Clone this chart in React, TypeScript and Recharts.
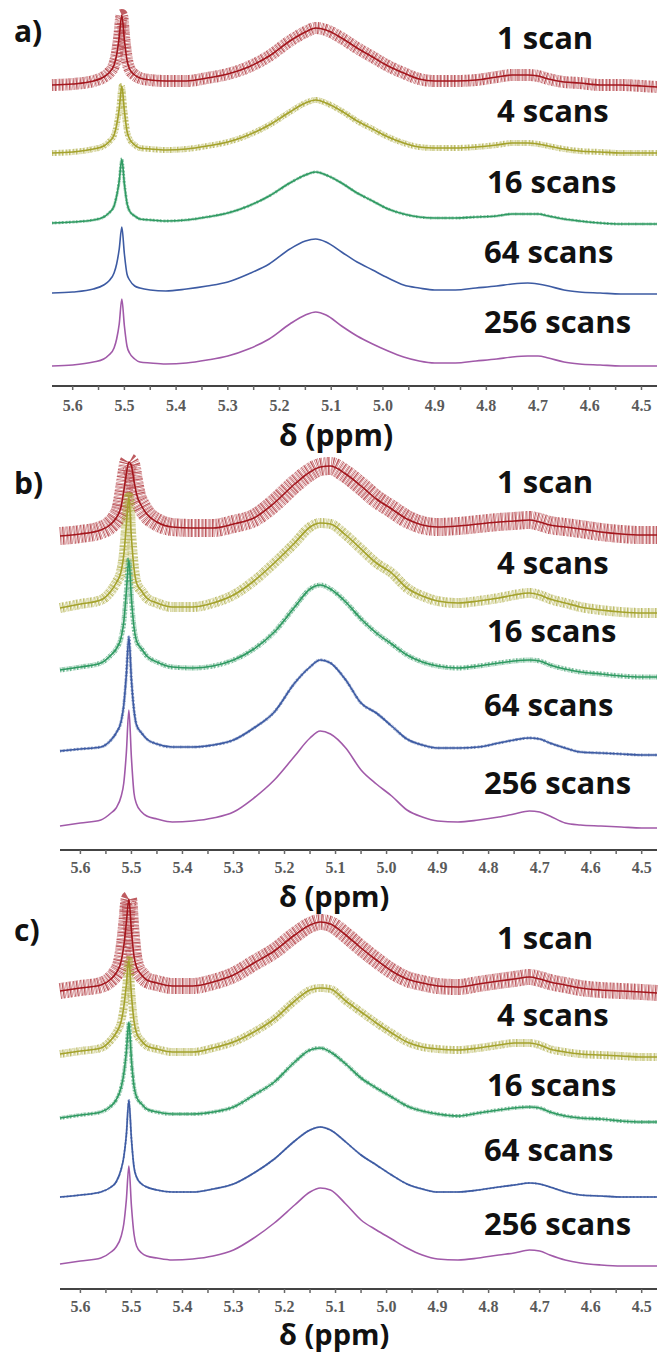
import React from 'react';
import { LineChart, Line, XAxis, YAxis } from 'recharts';

// chemical shift grid (ppm), shared by every trace; denser around the 5.5 ppm peak
const ppm = [
  5.64, 5.6, 5.56, 5.54, 5.53, 5.52, 5.515, 5.51, 5.505, 5.5, 5.495, 5.49, 5.48, 5.47, 5.45,
  5.42, 5.38, 5.34, 5.3, 5.26, 5.22, 5.18, 5.15, 5.13, 5.11, 5.08, 5.05, 5.02, 4.99, 4.96,
  4.93, 4.9, 4.86, 4.82, 4.78, 4.75, 4.72, 4.7, 4.68, 4.65, 4.62, 4.58, 4.54, 4.5, 4.47,
];

const scanLabels = ['1 scan', '4 scans', '16 scans', '64 scans', '256 scans'];
const scanColors = ['#a3161d', '#a4a22c', '#2f9a62', '#3d5ba3', '#a15aa9'];

const majorTicks = [5.6, 5.5, 5.4, 5.3, 5.2, 5.1, 5.0, 4.9, 4.8, 4.7, 4.6, 4.5];
const minorTicks = [5.55, 5.45, 5.35, 5.25, 5.15, 5.05, 4.95, 4.85, 4.75, 4.65, 4.55];

// intensities above each trace's own baseline (arbitrary units)
const a1 = [
  0, 1, 4, 8, 12, 20, 30, 48, 70, 45, 25, 16, 10, 7, 5,
  4, 4, 7, 11, 18, 29, 44, 53, 57, 55, 47, 37, 28, 19, 12,
  6, 4, 4, 5, 8, 10, 10, 9, 6, 3, 2, 0, 0, -1, -2,
];
const a4 = [
  0, 1, 4, 7, 11, 18, 28, 44, 67, 42, 22, 14, 8, 5, 4,
  3, 4, 7, 11, 18, 28, 41, 50, 53, 50, 42, 32, 24, 16, 10,
  6, 5, 5, 6, 8, 10, 10, 9, 7, 4, 2, 1, 0, 0, 0,
];
const a16 = [
  1, 2, 4, 7, 11, 18, 28, 43, 65, 40, 21, 13, 8, 5, 4,
  3, 4, 7, 11, 18, 28, 41, 49, 52, 49, 41, 31, 23, 15, 10,
  7, 6, 6, 7, 8, 10, 10, 10, 8, 5, 3, 1, 0, 0, 0,
];
const a64 = [
  1, 2, 5, 9, 13, 21, 30, 45, 67, 40, 20, 14, 8, 6, 4,
  3, 5, 8, 12, 20, 30, 45, 53, 55, 52, 42, 32, 24, 16, 9,
  6, 4, 4, 6, 8, 10, 11, 10, 8, 4, 2, 1, 0, 0, 0,
];
const a256 = [
  0, 1, 4, 7, 11, 18, 27, 42, 67, 40, 20, 13, 7, 4, 3,
  2, 3, 6, 10, 17, 27, 42, 51, 54, 51, 40, 30, 22, 15, 9,
  5, 3, 3, 5, 7, 9, 10, 10, 8, 4, 2, 1, 0, 0, 0,
];

const b1 = [
  0, 2, 6, 12, 18, 30, 45, 62, 74, 70, 55, 42, 30, 22, 14,
  9, 8, 8, 12, 18, 33, 52, 64, 69, 70, 62, 50, 37, 27, 17,
  11, 9, 10, 12, 14, 15, 16, 14, 11, 9, 7, 4, 2, 1, 1,
];
const b4 = [
  5, 9, 13, 22, 30, 42, 58, 88, 116, 75, 45, 30, 22, 15, 10,
  6, 6, 10, 18, 32, 50, 70, 86, 90, 89, 78, 64, 50, 40, 25,
  17, 12, 10, 12, 15, 18, 20, 18, 14, 10, 6, 3, 1, 0, 0,
];
const b16 = [
  7, 10, 14, 22, 28, 40, 55, 85, 117, 78, 50, 36, 28, 21, 15,
  10, 9, 11, 17, 28, 45, 70, 88, 92, 88, 75, 58, 44, 33, 22,
  15, 11, 9, 11, 14, 16, 17, 16, 12, 8, 5, 3, 1, 0, 0,
];
const b64 = [
  4, 6, 8, 15, 22, 34, 50, 80, 118, 75, 45, 30, 22, 16, 11,
  8, 8, 10, 15, 27, 43, 72, 88, 95, 92, 75, 52, 42, 29, 16,
  10, 7, 7, 8, 12, 15, 17, 16, 12, 7, 3, 2, 1, 0, 0,
];
const b256 = [
  2, 5, 8, 15, 20, 32, 45, 75, 118, 70, 35, 24, 16, 12, 9,
  6, 7, 10, 16, 30, 48, 72, 90, 97, 94, 80, 58, 44, 32, 18,
  11, 7, 6, 8, 11, 14, 17, 16, 12, 5, 3, 2, 1, 0, 0,
];

const c1 = [
  0, 3, 6, 12, 18, 30, 45, 68, 92, 60, 35, 24, 16, 11, 8,
  5, 5, 9, 16, 28, 40, 56, 66, 69, 67, 56, 43, 31, 20, 12,
  8, 5, 4, 7, 10, 12, 14, 12, 9, 6, 3, 1, 0, -1, -2,
];
const c4 = [
  3, 6, 9, 17, 24, 36, 50, 72, 97, 62, 36, 24, 16, 11, 8,
  5, 5, 9, 15, 25, 38, 56, 67, 69, 68, 56, 45, 34, 24, 15,
  10, 8, 7, 9, 12, 14, 14, 12, 8, 5, 3, 2, 1, 0, 0,
];
const c16 = [
  4, 7, 10, 16, 22, 35, 48, 70, 100, 62, 36, 25, 18, 13, 10,
  8, 8, 10, 15, 27, 40, 60, 72, 74, 70, 58, 44, 34, 25, 16,
  11, 8, 6, 9, 12, 14, 15, 14, 10, 6, 4, 3, 1, 0, 0,
];
const c64 = [
  0, 2, 5, 10, 15, 28, 40, 62, 97, 58, 30, 20, 13, 10, 7,
  5, 5, 8, 13, 24, 38, 56, 67, 70, 67, 55, 42, 32, 22, 13,
  8, 5, 5, 7, 10, 12, 14, 13, 10, 5, 2, 1, 0, 0, 0,
];
const c256 = [
  2, 5, 8, 14, 19, 30, 42, 66, 100, 60, 32, 20, 13, 10, 8,
  6, 7, 10, 16, 28, 43, 61, 74, 78, 76, 62, 46, 36, 27, 18,
  11, 7, 6, 8, 11, 13, 16, 15, 11, 6, 3, 1, 0, 0, 0,
];

// vertical stacking offset of each trace (same units)
const offsetsA = [301, 233, 162, 92, 20];
const offsetsB = [314, 237, 173, 95, 22];
const offsetsC = [298, 232, 167, 92, 23];

const buildRows = (traces: number[][], offsets: number[]) =>
  ppm.map((x, i) => {
    const row: Record<string, number> = { ppm: x };
    traces.forEach((t, k) => {
      row['s' + k] = offsets[k] + t[i];
    });
    return row;
  });

const panels = [
  {
    id: 'a',
    top: 0,
    left: 52,
    plotH: 386,
    axisH: 74,
    tickDy: 19,
    rows: buildRows([a1, a4, a16, a64, a256], offsetsA),
    noise: [12, 6, 3, 0, 0],
    labelY: [49, 122, 193, 263, 333],
    letterY: 42,
    deltaY: 446,
    deltaSize: 30,
  },
  {
    id: 'b',
    top: 450,
    left: 60,
    plotH: 400,
    axisH: 70,
    tickDy: 17,
    rows: buildRows([b1, b4, b16, b64, b256], offsetsB),
    noise: [18, 10, 5, 3, 0],
    labelY: [493, 574, 642, 716, 794],
    letterY: 494,
    deltaY: 907,
    deltaSize: 29,
  },
  {
    id: 'c',
    top: 880,
    left: 60,
    plotH: 409,
    axisH: 65,
    tickDy: 17,
    rows: buildRows([c1, c4, c16, c64, c256], offsetsC),
    noise: [16, 8, 4, 2, 0],
    labelY: [949, 1026, 1096, 1161, 1235],
    letterY: 941,
    deltaY: 1345,
    deltaSize: 29,
  },
];

const labelX = [497, 497, 487, 484, 484];

const PpmTick = (props: any) => {
  const { x, y, payload, dyOffset } = props;
  const v = payload.value as number;
  if (!majorTicks.some((m) => Math.abs(m - v) < 1e-6)) return <g />;
  return (
    <text
      x={x}
      y={y}
      dy={dyOffset}
      textAnchor="middle"
      fontFamily="'Liberation Serif', 'DejaVu Serif', serif"
      fontWeight="bold"
      fontSize={16}
      fill="#5a5a5a"
    >
      {v.toFixed(1)}
    </text>
  );
};

const Panel = ({ p }: { p: (typeof panels)[number] }) => (
  <div style={{ position: 'absolute', top: p.top, left: 0 }}>
    <LineChart
      width={659}
      height={p.plotH + p.axisH}
      data={p.rows}
      margin={{ top: 0, right: 2, bottom: 0, left: p.left }}
    >
      <XAxis
        dataKey="ppm"
        type="number"
        domain={[4.47, 5.64]}
        reversed
        ticks={[...majorTicks, ...minorTicks]}
        interval={0}
        height={p.axisH}
        tickSize={4}
        axisLine={{ stroke: '#444', strokeWidth: 2 }}
        tickLine={{ stroke: '#666', strokeWidth: 1.5 }}
        tick={(props: any) => <PpmTick {...props} dyOffset={p.tickDy} />}
      />
      <YAxis hide type="number" domain={[0, p.plotH]} />
      {/* noise envelope of the low-scan traces: a band broken by an uneven dash pattern */}
      {scanColors.map((color, k) =>
        p.noise[k] > 0 ? (
          <Line
            key={'band' + k}
            dataKey={'s' + k}
            type="monotone"
            stroke={color}
            strokeWidth={p.noise[k]}
            strokeOpacity={0.7}
            strokeDasharray="0.9 0.5 0.4 0.8 1.3 0.4 0.6 1.1 0.5 0.6"
            strokeLinejoin="round"
            dot={false}
            activeDot={false}
            isAnimationActive={false}
          />
        ) : null
      )}
      {scanColors.map((color, k) => (
        <Line
          key={'line' + k}
          dataKey={'s' + k}
          type="monotone"
          stroke={color}
          strokeWidth={1.6}
          dot={false}
          activeDot={false}
          isAnimationActive={false}
        />
      ))}
    </LineChart>
  </div>
);

export default function App() {
  const sans = "'Open Sans', 'Noto Sans', sans-serif";
  return (
    <div style={{ position: 'relative', width: 659, height: 1354, background: '#fff' }}>
      <style>{'body{margin:0}'}</style>
      {panels.map((p) => (
        <Panel key={p.id} p={p} />
      ))}
      <svg
        width={659}
        height={1354}
        style={{ position: 'absolute', top: 0, left: 0, pointerEvents: 'none' }}
      >
        {panels.map((p) => (
          <g key={p.id} fontFamily={sans} fontWeight="bold" fill="#111">
            <text x={14} y={p.letterY} fontSize={30}>
              {p.id + ')'}
            </text>
            {scanLabels.map((s, k) => (
              <text key={s} x={labelX[k]} y={p.labelY[k]} fontSize={31}>
                {s}
              </text>
            ))}
            <text x={279} y={p.deltaY} fontSize={p.deltaSize}>
              δ (ppm)
            </text>
          </g>
        ))}
      </svg>
    </div>
  );
}
